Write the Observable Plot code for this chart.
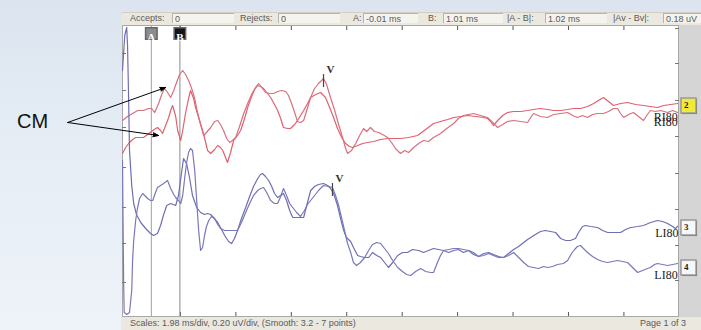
<!DOCTYPE html>
<html><head><meta charset="utf-8">
<script src="https://cdn.jsdelivr.net/npm/d3@7"></script>
<script src="https://cdn.jsdelivr.net/npm/@observablehq/plot@0.6"></script>
<style>
body{margin:0;}
#wrap{position:relative;width:701px;height:330px;overflow:hidden;background:linear-gradient(#dbe4ef,#e6edf5 45%,#eef3f9);font-family:"Liberation Sans",Arial,sans-serif;}
.bar{position:absolute;left:121px;width:580px;background:#ebe8e0;}
.lbl{position:absolute;top:13px;font-size:9px;color:#5a5a5a;white-space:nowrap;line-height:11px;}
.fld{position:absolute;top:13px;height:10px;background:#f5f3ee;border-top:1px solid #b9b4a8;border-left:1px solid #b9b4a8;font-size:9px;color:#5a5a5a;line-height:10px;padding-left:2px;box-sizing:border-box;white-space:nowrap;}
#chart{position:absolute;left:0;top:0;}
</style></head>
<body>
<div id="wrap">
  <div class="bar" style="top:12px;height:13px;border-top:1px solid #d2cec4;border-radius:3px 0 0 0;"></div>
  <div class="bar" style="top:317px;height:13px;"></div>
  <div style="position:absolute;left:678px;top:25px;width:23px;height:292px;background:#d5d5d5;"></div>
  <div class="lbl" style="left:130px">Accepts:</div>
  <div class="fld" style="left:172px;width:62px">0</div>
  <div class="lbl" style="left:240px">Rejects:</div>
  <div class="fld" style="left:278px;width:62px">0</div>
  <div class="lbl" style="left:353px">A:</div>
  <div class="fld" style="left:363px;width:55px">-0.01 ms</div>
  <div class="lbl" style="left:428px">B:</div>
  <div class="fld" style="left:443px;width:60px">1.01 ms</div>
  <div class="lbl" style="left:507px">|A - B|:</div>
  <div class="fld" style="left:545px;width:62px">1.02 ms</div>
  <div class="lbl" style="left:613px">|Av - Bv|:</div>
  <div class="fld" style="left:663px;width:38px">0.18 uV</div>
  <div class="lbl" style="left:130px;top:318px">Scales: 1.98 ms/div, 0.20 uV/div, (Smooth: 3.2 - 7 points)</div>
  <div class="lbl" style="left:640px;top:318px">Page 1 of 3</div>
  <div id="chart"></div>
</div>
<script>
// time in ms, amplitude in uV (display offset included)
const redA = [[-1.04,0.98],[-0.86,1.00],[-0.68,1.015],[-0.50,1.03],[-0.29,1.03],[-0.11,1.04],[0.00,1.04],[0.11,1.02],[0.25,1.065],[0.36,1.11],[0.46,1.14],[0.57,1.12],[0.68,1.095],[0.79,1.13],[0.89,1.17],[1.00,1.21],[1.11,1.23],[1.21,1.21],[1.32,1.18],[1.43,1.14],[1.54,1.09],[1.64,1.02],[1.75,0.96],[1.86,0.905],[1.96,0.92],[2.11,0.945],[2.25,0.975],[2.36,0.98],[2.46,0.96],[2.57,0.93],[2.68,0.89],[2.79,0.87],[2.89,0.88],[3.00,0.895],[3.14,0.95],[3.29,1.015],[3.43,1.065],[3.57,1.11],[3.71,1.145],[3.82,1.165],[3.96,1.14],[4.07,1.12],[4.21,1.115],[4.36,1.115],[4.50,1.125],[4.64,1.13],[4.79,1.125],[4.89,1.105],[5.00,1.065],[5.11,1.02],[5.21,0.975],[5.32,0.97],[5.43,0.98],[5.54,1.03],[5.68,1.095],[5.82,1.14],[5.96,1.165],[6.07,1.18],[6.14,1.19],[6.25,1.16],[6.39,1.095],[6.54,1.03],[6.68,0.96],[6.82,0.895],[6.93,0.84],[7.00,0.815],[7.14,0.83],[7.29,0.865],[7.43,0.905],[7.57,0.94],[7.68,0.925],[7.82,0.945],[7.96,0.925],[8.11,0.92],[8.25,0.91],[8.43,0.895],[8.57,0.87],[8.71,0.84],[8.89,0.815],[9.04,0.83],[9.18,0.82],[9.36,0.845],[9.54,0.865],[9.71,0.88],[9.89,0.875],[10.07,0.895],[10.32,0.915],[10.54,0.94],[10.79,0.965],[10.96,0.99],[11.14,1.005],[11.32,1.01],[11.50,1.015],[11.75,1.005],[12.00,0.995],[12.18,0.97],[12.36,0.945],[12.54,0.96],[12.71,0.975],[12.93,0.98],[13.18,0.975],[13.43,0.97],[13.54,0.995],[13.64,1.015],[13.89,1.00],[14.14,0.995],[14.36,1.01],[14.61,1.015],[14.86,1.02],[15.04,1.005],[15.21,0.995],[15.39,1.005],[15.57,0.995],[15.75,1.01],[15.93,1.015],[16.14,1.015],[16.32,1.025],[16.50,1.04],[16.64,1.04],[16.75,1.015],[16.86,0.995],[17.04,1.01],[17.21,1.02],[17.39,1.00],[17.57,0.98],[17.71,1.01],[17.82,1.03],[18.00,1.025],[18.18,1.03],[18.43,1.02],[18.61,1.03],[18.79,1.02]];
const redB = [[-1.04,0.815],[-0.93,0.845],[-0.82,0.865],[-0.68,0.885],[-0.57,0.895],[-0.43,0.895],[-0.29,0.895],[-0.14,0.91],[0.04,0.93],[0.21,0.945],[0.32,0.93],[0.39,0.915],[0.50,0.955],[0.61,0.995],[0.68,1.03],[0.75,1.055],[0.86,1.00],[0.93,0.93],[1.04,0.88],[1.11,0.93],[1.21,1.015],[1.32,1.09],[1.39,1.13],[1.50,1.09],[1.57,1.045],[1.71,0.98],[1.82,0.93],[1.93,0.87],[2.00,0.83],[2.11,0.815],[2.25,0.835],[2.36,0.855],[2.46,0.845],[2.54,0.83],[2.64,0.795],[2.71,0.77],[2.82,0.82],[2.93,0.88],[3.07,0.905],[3.18,0.93],[3.32,0.99],[3.43,1.045],[3.57,1.10],[3.68,1.135],[3.79,1.155],[3.89,1.15],[4.00,1.14],[4.14,1.115],[4.25,1.095],[4.39,1.06],[4.50,1.03],[4.61,0.99],[4.71,0.945],[4.86,0.94],[4.96,0.94],[5.11,0.96],[5.21,0.98],[5.32,1.005],[5.43,1.03],[5.57,1.065],[5.68,1.095],[5.86,1.11],[6.04,1.12],[6.14,1.105],[6.21,1.095],[6.36,1.045],[6.50,0.995],[6.64,0.94],[6.79,0.895],[6.93,0.865],[7.07,0.85],[7.18,0.845],[7.36,0.855],[7.54,0.865],[7.71,0.87],[7.93,0.875],[8.18,0.885],[8.43,0.89],[8.64,0.89],[8.89,0.89],[9.18,0.895],[9.50,0.905],[9.79,0.935],[10.07,0.965],[10.32,0.975],[10.57,0.985],[10.79,0.995],[11.04,1.00],[11.29,1.005],[11.57,1.00],[11.86,0.995],[12.00,0.99],[12.11,0.975],[12.21,0.955],[12.36,0.98],[12.54,1.005],[12.71,1.02],[12.93,1.025],[13.18,1.025],[13.43,1.03],[13.64,1.035],[13.89,1.04],[14.14,1.035],[14.36,1.03],[14.61,1.03],[14.86,1.035],[15.07,1.04],[15.32,1.04],[15.57,1.05],[15.79,1.065],[15.96,1.08],[16.14,1.095],[16.32,1.075],[16.50,1.055],[16.75,1.065],[17.00,1.07],[17.29,1.06],[17.57,1.055],[17.82,1.05],[18.07,1.045],[18.29,1.055],[18.54,1.06],[18.79,1.065]];
const blueC = [[-1.04,1.23],[-0.96,1.405],[-0.89,1.445],[-0.86,1.355],[-0.82,1.08],[-0.79,0.83],[-0.71,0.655],[-0.64,0.565],[-0.54,0.51],[-0.39,0.47],[-0.21,0.44],[-0.04,0.415],[0.07,0.405],[0.21,0.415],[0.32,0.455],[0.43,0.51],[0.54,0.555],[0.68,0.565],[0.86,0.555],[0.96,0.605],[1.07,0.72],[1.14,0.79],[1.25,0.765],[1.36,0.69],[1.46,0.605],[1.61,0.545],[1.75,0.52],[1.89,0.51],[2.00,0.515],[2.11,0.51],[2.21,0.495],[2.36,0.47],[2.46,0.445],[2.61,0.405],[2.75,0.375],[2.86,0.365],[2.96,0.39],[3.07,0.43],[3.21,0.49],[3.36,0.545],[3.50,0.60],[3.64,0.65],[3.79,0.69],[3.89,0.71],[3.96,0.715],[4.07,0.70],[4.18,0.68],[4.29,0.65],[4.39,0.615],[4.50,0.595],[4.61,0.605],[4.71,0.615],[4.82,0.58],[4.93,0.53],[5.04,0.495],[5.18,0.495],[5.32,0.495],[5.43,0.495],[5.54,0.555],[5.68,0.63],[5.82,0.65],[5.96,0.66],[6.14,0.665],[6.29,0.655],[6.39,0.64],[6.50,0.615],[6.64,0.555],[6.75,0.49],[6.86,0.43],[6.96,0.395],[7.11,0.375],[7.21,0.345],[7.36,0.305],[7.46,0.30],[7.61,0.295],[7.75,0.295],[7.89,0.32],[8.04,0.305],[8.18,0.295],[8.32,0.27],[8.46,0.245],[8.61,0.27],[8.79,0.305],[8.96,0.32],[9.14,0.32],[9.32,0.335],[9.54,0.33],[9.71,0.32],[9.89,0.33],[10.07,0.34],[10.25,0.335],[10.43,0.33],[10.61,0.32],[10.79,0.33],[10.96,0.335],[11.14,0.32],[11.32,0.33],[11.50,0.31],[11.68,0.30],[11.86,0.315],[12.04,0.32],[12.21,0.31],[12.39,0.30],[12.57,0.295],[12.75,0.315],[12.93,0.335],[13.11,0.35],[13.29,0.37],[13.43,0.385],[13.54,0.395],[13.71,0.41],[13.89,0.425],[14.07,0.43],[14.25,0.425],[14.43,0.42],[14.61,0.39],[14.79,0.38],[14.96,0.38],[15.14,0.39],[15.25,0.42],[15.39,0.45],[15.50,0.455],[15.68,0.45],[15.93,0.445],[16.11,0.43],[16.29,0.42],[16.50,0.42],[16.75,0.42],[16.93,0.435],[17.11,0.445],[17.36,0.45],[17.57,0.455],[17.82,0.47],[18.07,0.48],[18.25,0.475],[18.43,0.465],[18.61,0.45],[18.71,0.44],[18.82,0.455]];
const blueD = [[-1.04,0.78],[-1.02,0.48],[-1.00,0.18],[-0.98,0.02],[-0.89,0.01],[-0.79,0.02],[-0.71,0.13],[-0.68,0.28],[-0.64,0.38],[-0.57,0.48],[-0.50,0.545],[-0.43,0.59],[-0.32,0.615],[-0.21,0.60],[-0.14,0.59],[-0.04,0.58],[0.04,0.58],[0.14,0.62],[0.21,0.645],[0.32,0.655],[0.43,0.665],[0.57,0.68],[0.68,0.64],[0.79,0.61],[0.86,0.595],[0.96,0.58],[1.04,0.565],[1.11,0.605],[1.18,0.69],[1.25,0.77],[1.32,0.82],[1.39,0.84],[1.46,0.83],[1.54,0.73],[1.61,0.58],[1.68,0.43],[1.75,0.33],[1.82,0.345],[1.89,0.405],[1.96,0.45],[2.04,0.48],[2.14,0.50],[2.25,0.49],[2.36,0.46],[2.46,0.44],[2.61,0.43],[2.75,0.43],[2.89,0.43],[3.07,0.43],[3.21,0.47],[3.36,0.52],[3.50,0.565],[3.64,0.605],[3.79,0.63],[3.89,0.64],[4.00,0.645],[4.11,0.62],[4.25,0.58],[4.39,0.565],[4.50,0.565],[4.61,0.60],[4.71,0.64],[4.82,0.605],[4.93,0.565],[5.04,0.545],[5.18,0.52],[5.32,0.50],[5.46,0.53],[5.57,0.56],[5.68,0.58],[5.82,0.605],[5.96,0.63],[6.14,0.655],[6.32,0.65],[6.46,0.645],[6.57,0.605],[6.68,0.555],[6.79,0.49],[6.89,0.43],[7.00,0.365],[7.11,0.32],[7.21,0.27],[7.32,0.255],[7.46,0.27],[7.61,0.295],[7.75,0.33],[7.89,0.36],[8.04,0.37],[8.18,0.365],[8.32,0.34],[8.46,0.315],[8.61,0.28],[8.79,0.245],[8.96,0.225],[9.11,0.21],[9.25,0.205],[9.43,0.225],[9.61,0.24],[9.79,0.225],[9.96,0.22],[10.07,0.22],[10.21,0.27],[10.32,0.305],[10.43,0.33],[10.61,0.335],[10.79,0.34],[10.96,0.34],[11.14,0.335],[11.32,0.33],[11.50,0.32],[11.68,0.30],[11.86,0.305],[12.04,0.315],[12.21,0.305],[12.39,0.295],[12.57,0.295],[12.75,0.305],[12.93,0.32],[13.11,0.295],[13.29,0.27],[13.46,0.25],[13.64,0.245],[13.82,0.24],[14.00,0.25],[14.14,0.245],[14.32,0.25],[14.50,0.26],[14.71,0.265],[14.86,0.28],[15.00,0.315],[15.11,0.335],[15.21,0.35],[15.32,0.355],[15.46,0.335],[15.57,0.32],[15.75,0.30],[15.93,0.285],[16.11,0.275],[16.29,0.27],[16.46,0.275],[16.64,0.28],[16.82,0.275],[17.00,0.27],[17.18,0.245],[17.36,0.22],[17.54,0.23],[17.71,0.24],[17.82,0.245],[17.96,0.26],[18.07,0.265],[18.25,0.26],[18.43,0.255],[18.61,0.26],[18.79,0.265]];

const xTicks = [1.03, 3.01, 4.99, 6.97, 8.95, 10.93, 12.91, 14.89, 16.87];
const leftTicks = [1.315, 1.13, 0.945, 0.745, 0.545, 0.365, 0.17];
const rightTicks = [1.44, 1.265, 1.08, 0.90, 0.715, 0.535, 0.355, 0.18];
const cursors = [{name: "A", t: -0.01}, {name: "B", t: 1.01}];
const channels = [{ch: "2", v: 1.055}, {ch: "3", v: 0.445}, {ch: "4", v: 0.245}];
const waveV = [{label: "V", t: 6.14, v: 1.19}, {label: "V", t: 6.46, v: 0.645}];
const cmLabel = [{label: "CM", t: -4.25, v: 0.975}];
const cmArrows = [{t1: -3.0, v1: 0.97, t2: 0.5, v2: 1.145}, {t1: -3.0, v1: 0.97, t2: 0.25, v2: 0.905}];
const traceLabels = [
  {label: "RI80", series: redB, dy: 14},
  {label: "RI80", series: redA, dy: 10},
  {label: "LI80", series: blueC, dy: 8},
  {label: "LI80", series: blueD, dy: 12}
];

const X = d => d[0], Y = d => d[1];
const serif = "'Liberation Serif','DejaVu Serif',serif";
const last = s => s[s.length - 1];

const labelMarks = traceLabels.map(d => Plot.text([last(d.series)], {
  x: X, y: Y, text: () => d.label, dy: d.dy, textAnchor: "end",
  fontFamily: serif, fontSize: 12, fill: "#222"
}));

const chart = Plot.plot({
  width: 701, height: 330,
  marginLeft: 122, marginRight: 23, marginTop: 25, marginBottom: 14,
  x: {domain: [-1.04, 18.82]},
  y: {domain: [0, 1.455]},
  color: {type: "identity"},
  style: {background: "transparent", overflow: "visible"},
  marks: [
    Plot.frame({fill: "white", stroke: "#a8a8a8"}),
    Plot.axisY({anchor: "left", ticks: leftTicks, tickSize: 4, dx: 4, tickFormat: () => "", label: null, stroke: "#777"}),
    Plot.axisY({anchor: "right", ticks: rightTicks, tickSize: 4, dx: -4, tickFormat: () => "", label: null, stroke: "#777"}),
    Plot.axisX({anchor: "bottom", ticks: xTicks, tickSize: 4, dy: -4, tickFormat: () => "", label: null, stroke: "#555"}),
    Plot.axisX({anchor: "top", ticks: xTicks, tickSize: 4, dy: 4, tickFormat: () => "", label: null, stroke: "#555"}),
    Plot.ruleX(cursors, {x: "t", stroke: d => d.name === "A" ? "#a0a0a0" : "#8a8a8a", strokeWidth: 1}),
    Plot.line(redB, {x: X, y: Y, stroke: "#e2606e", strokeWidth: 1.2, clip: true}),
    Plot.line(redA, {x: X, y: Y, stroke: "#d8707f", strokeWidth: 1.2, clip: true}),
    Plot.line(blueC, {x: X, y: Y, stroke: "#6e6eb4", strokeWidth: 1.2, clip: true}),
    Plot.line(blueD, {x: X, y: Y, stroke: "#7878bc", strokeWidth: 1.2, clip: true}),
    Plot.ruleX(waveV, {x: "t", y1: d => d.v + 0.02, y2: d => d.v - 0.045, stroke: "#444", strokeWidth: 1.2}),
    Plot.text(waveV, {x: "t", y: "v", text: "label", dx: 7, dy: -9, fontFamily: serif, fontWeight: "bold", fontSize: 11, fill: "#333"}),
    ...labelMarks,
    Plot.dot(cursors, {x: "t", frameAnchor: "top", dy: 8, symbol: "square", r: 6.5, fill: d => d.name === "A" ? "#8d8d8d" : "#141414", stroke: "#666"}),
    Plot.text(cursors, {x: "t", frameAnchor: "top", dy: 8, text: "name", fill: "white", fontFamily: serif, fontWeight: "bold", fontSize: 11}),
    Plot.dot(channels, {y: "v", frameAnchor: "right", dx: 11, dy: 1, symbol: "square", r: 8.5, fill: "#555"}),
    Plot.dot(channels, {y: "v", frameAnchor: "right", dx: 10, symbol: "square", r: 8.5, fill: d => d.ch === "2" ? "#f2ea38" : "#f7f7f7", stroke: "#999"}),
    Plot.text(channels, {y: "v", frameAnchor: "right", dx: 10, text: "ch", fontFamily: serif, fontWeight: "bold", fontSize: 9, fill: "#222"}),
    Plot.arrow(cmArrows, {x1: "t1", y1: "v1", x2: "t2", y2: "v2", stroke: "black", fill: "black", strokeWidth: 1, headLength: 9, headAngle: 40}),
    Plot.text(cmLabel, {x: "t", y: "v", text: "label", fontFamily: "'Liberation Sans',Arial,sans-serif", fontSize: 20, fill: "#111"})
  ]
});
document.getElementById("chart").appendChild(chart);
</script>
</body></html>
